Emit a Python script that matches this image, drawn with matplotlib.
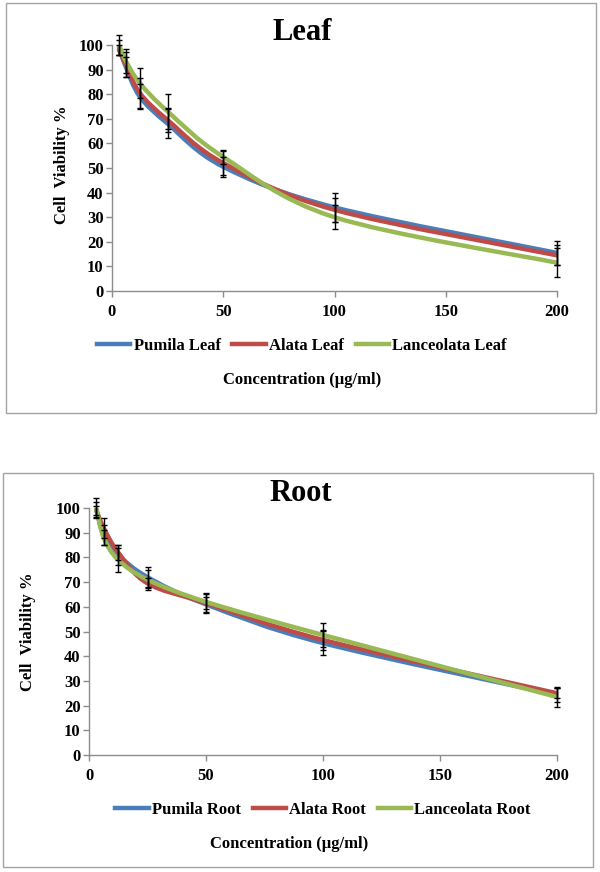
import numpy as np
import matplotlib
matplotlib.use('Agg')
import matplotlib.pyplot as plt
from matplotlib.path import Path
from matplotlib.patches import PathPatch, Rectangle
from matplotlib.lines import Line2D

# ---------------- data ----------------
conc = [3.125, 6.25, 12.5, 25, 50, 100, 200]

leaf_names = ['Pumila Leaf', 'Alata Leaf', 'Lanceolata Leaf']
leaf_pumila = [99, 91, 79, 68, 50.5, 34, 15.5]
leaf_pumila_err = [3, 4, 5, 6, 4, 6, 5]
leaf_alata = [98, 92, 80.5, 69.5, 52, 33, 14.5]
leaf_alata_err = [2, 5, 6, 5, 5, 5, 4]
leaf_lanceolata = [100, 93.5, 84.5, 73, 54.5, 30, 11.5]
leaf_lanceolata_err = [4, 5, 6, 7, 3, 5, 6]

root_names = ['Pumila Root', 'Alata Root', 'Lanceolata Root']
root_pumila = [99.5, 89, 81, 72, 61, 45.3, 24.3]
root_pumila_err = [3, 4, 4, 4, 3, 5, 3]
root_alata = [99, 92, 82, 69.5, 61.5, 46.6, 25]
root_alata_err = [2, 4, 3, 2, 4, 4, 2]
root_lanceolata = [100, 88, 79, 71, 62, 48.6, 23.5]
root_lanceolata_err = [4, 3, 5, 4, 3, 5, 4]

x_ticks = [0, 50, 100, 150, 200]
y_ticks = list(range(0, 101, 10))
x_label = 'Concentration (µg/ml)'
y_label = 'Cell  Viability %'

colors = ['#4A7EBB', '#BE4B48', '#98B954']

# ---------------- layout ----------------
W, H = 600, 872
plt.rcParams['font.family'] = ['Liberation Serif', 'DejaVu Serif']
plt.rcParams['font.weight'] = 'bold'
fig = plt.figure(figsize=(6, 8.72), dpi=100)


def fx(px):
    return px / W


def fy(py):
    return 1 - py / H


def smooth_path(x, y):
    P = np.column_stack([x, y]).astype(float)
    n = len(P)
    T = np.zeros_like(P)
    for i in range(n):
        a = P[max(i - 1, 0)]
        b = P[min(i + 1, n - 1)]
        T[i] = (b - a) / 6.0
    verts = [P[0]]
    codes = [Path.MOVETO]
    for i in range(n - 1):
        verts += [P[i] + T[i], P[i + 1] - T[i + 1], P[i + 1]]
        codes += [Path.CURVE4] * 3
    return Path(verts, codes)


def panel(box, axpx, title, title_xy, names, series, errs, ylab_xy, leg_xy, xlab_xy):
    # outer border
    bx0, by0, bx1, by1 = box
    fig.patches.append(Rectangle((fx(bx0), fy(by1)), (bx1 - bx0) / W, (by1 - by0) / H,
                                 transform=fig.transFigure, fill=False,
                                 edgecolor='#a3a3a3', lw=1.0))
    x0, y0, x1, y1 = axpx  # left, top, right, bottom pixel
    ax = fig.add_axes([fx(x0), fy(y1), (x1 - x0) / W, (y1 - y0) / H])
    ax.set_xlim(0, 200)
    ax.set_ylim(0, 100)
    for s in ['top', 'right']:
        ax.spines[s].set_visible(False)
    for s in ['left', 'bottom']:
        ax.spines[s].set_color('#8c8c8c')
        ax.spines[s].set_linewidth(1.0)
    ax.set_xticks(x_ticks)
    ax.set_yticks(y_ticks)
    ax.set_xticklabels([str(t) for t in x_ticks])
    ax.set_yticklabels([str(t) for t in y_ticks])
    ax.tick_params(axis='both', direction='out', length=4, width=1, color='#8c8c8c',
                   labelsize=12)
    ax.tick_params(axis='x', pad=5)
    ax.tick_params(axis='y', pad=2)
    for lab in ax.get_xticklabels() + ax.get_yticklabels():
        lab.set_fontweight('bold')
    ax.patch.set_visible(False)

    for i, (vals, col) in enumerate(zip(series, colors)):
        p = PathPatch(smooth_path(conc, vals), facecolor='none', edgecolor=col,
                      lw=3.2, zorder=2 + i, capstyle='round', joinstyle='round')
        ax.add_patch(p)
    for vals, e in zip(series, errs):
        ax.errorbar(conc, vals, yerr=e, fmt='none', ecolor='black', elinewidth=1.0,
                    capsize=2.5, capthick=1.0, zorder=6, clip_on=False)

    fig.text(fx(title_xy[0]), fy(title_xy[1]), title, ha='center', va='center',
             fontsize=22, fontweight='bold')
    fig.text(fx(ylab_xy[0]), fy(ylab_xy[1]), y_label, ha='center', va='center',
             rotation=90, fontsize=12, fontweight='bold')
    fig.text(fx(xlab_xy[0]), fy(xlab_xy[1]), x_label, ha='center', va='center',
             fontsize=12, fontweight='bold')
    handles = [Line2D([], [], color=c, lw=3.2) for c in colors]
    fig.legend(handles, names, loc='center', bbox_to_anchor=(fx(leg_xy[0]), fy(leg_xy[1])),
               ncol=3, frameon=False, handlelength=2.0, handletextpad=0.2,
               columnspacing=0.7, prop={'size': 12, 'weight': 'bold'})
    return ax


panel((6, 3, 596, 413), (112, 45, 557, 291), 'Leaf', (302, 32), leaf_names,
      [leaf_pumila, leaf_alata, leaf_lanceolata],
      [leaf_pumila_err, leaf_alata_err, leaf_lanceolata_err],
      (62, 165), (302, 346), (302, 380))

panel((3, 473, 593, 867), (89, 508, 557, 755), 'Root', (301, 493), root_names,
      [root_pumila, root_alata, root_lanceolata],
      [root_pumila_err, root_alata_err, root_lanceolata_err],
      (28, 632), (323, 810), (289, 844))

fig.savefig('out.png', dpi=100)
